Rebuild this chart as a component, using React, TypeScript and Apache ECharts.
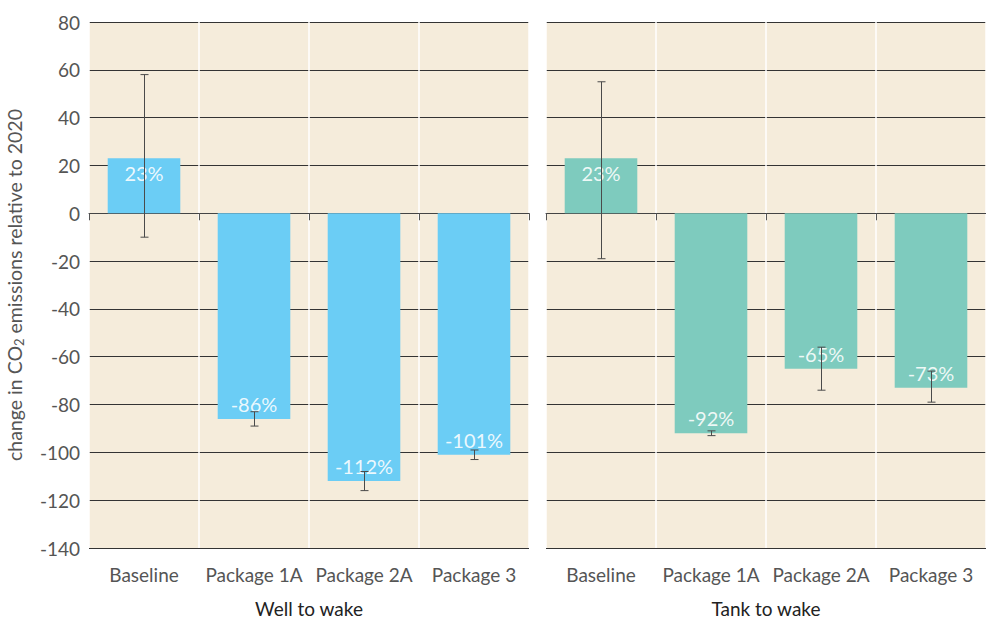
import React, { useEffect, useRef } from "react";
import * as echarts from "echarts";

const categories = ["Baseline", "Package 1A", "Package 2A", "Package 3"];
const yTicks = { min: -140, max: 80, interval: 20 };

// Well to wake
const wellValues = [23, -86, -112, -101];
const wellLow = [-10, -89, -116, -103];
const wellHigh = [58, -83, -108, -99];

// Tank to wake
const tankValues = [23, -92, -65, -73];
const tankLow = [-19, -93, -74, -79];
const tankHigh = [55, -91, -56, -66];

const panelTitles = ["Well to wake", "Tank to wake"];

const FONT = "Lato, 'Open Sans', sans-serif";
const BG = "#f5ecdb";
const COLOR_WELL = "#6bcdf5";
const COLOR_TANK = "#7ecbbe";

function barData(values: number[]) {
  return values.map((v) => ({
    value: v,
    label: { position: v >= 0 ? "insideTop" : "insideBottom" },
  }));
}

function errData(low: number[], high: number[]) {
  return categories.map((_, i) => [i, low[i], high[i]]);
}

function renderError(params: any, api: any) {
  const i = api.value(0);
  const lo = api.coord([i, api.value(1)]);
  const hi = api.coord([i, api.value(2)]);
  const x = Math.round(lo[0]) + 0.5;
  const cap = 4;
  const style = { stroke: "#4a4a4a", lineWidth: 1 };
  return {
    type: "group",
    children: [
      { type: "line", shape: { x1: x, y1: lo[1], x2: x, y2: hi[1] }, style },
      { type: "line", shape: { x1: x - cap, y1: lo[1], x2: x + cap, y2: lo[1] }, style },
      { type: "line", shape: { x1: x - cap, y1: hi[1], x2: x + cap, y2: hi[1] }, style },
    ],
  };
}

function xAxis(gridIndex: number) {
  return {
    type: "category",
    gridIndex,
    data: categories,
    name: panelTitles[gridIndex],
    nameLocation: "middle",
    nameGap: 51,
    nameTextStyle: { fontFamily: FONT, fontSize: 19, lineHeight: 19, color: "#222" },
    axisLine: { show: true, lineStyle: { color: "#444", width: 1 } },
    axisTick: { show: true, interval: 0, length: 7, lineStyle: { color: "#555" } },
    axisLabel: { interval: 0, fontFamily: FONT, fontSize: 19, color: "#555", margin: 17 },
    splitLine: { show: true, interval: 0, lineStyle: { color: "#ffffff", width: 1.5 } },
  };
}

function yAxis(gridIndex: number) {
  const base: any = {
    type: "value",
    gridIndex,
    min: yTicks.min,
    max: yTicks.max,
    interval: yTicks.interval,
    axisLine: { show: false },
    axisTick: { show: false },
    splitLine: { show: true, lineStyle: { color: "#333", width: 1 } },
    axisLabel: {
      show: gridIndex === 0,
      fontFamily: FONT,
      fontSize: 19,
      color: "#555",
      margin: 9,
    },
  };
  if (gridIndex === 0) {
    base.name = "change in CO{sub|2} emissions relative to 2020";
    base.nameLocation = "middle";
    base.nameGap = 64;
    base.nameTextStyle = {
      fontFamily: FONT,
      fontSize: 19.5,
      color: "#555",
      rich: {
        sub: {
          fontFamily: FONT,
          fontSize: 13,
          color: "#555",
          verticalAlign: "bottom",
          padding: [8, 0, 0, 0],
        },
      },
    };
  }
  return base;
}

const barLabel = {
  show: true,
  distance: 5,
  formatter: (p: any) => `${p.value}%`,
  fontFamily: FONT,
  fontSize: 20,
  color: "rgba(255,255,255,0.88)",
};

export default function App() {
  const ref = useRef<HTMLDivElement>(null);

  useEffect(() => {
    if (!ref.current) return;
    const chart = echarts.init(ref.current, undefined, { renderer: "svg" });
    chart.setOption({
      animation: false,
      backgroundColor: "#ffffff",
      grid: [
        {
          left: 89, right: 457, top: 22, bottom: 71,
          outerBoundsMode: "none", containLabel: false,
          show: true, backgroundColor: BG, borderWidth: 0,
        },
        {
          left: 546, right: 0, top: 22, bottom: 71,
          outerBoundsMode: "none", containLabel: false,
          show: true, backgroundColor: BG, borderWidth: 0,
        },
      ],
      xAxis: [xAxis(0), xAxis(1)],
      yAxis: [yAxis(0), yAxis(1)],
      series: [
        {
          type: "bar",
          xAxisIndex: 0,
          yAxisIndex: 0,
          data: barData(wellValues),
          barWidth: "66%",
          itemStyle: { color: COLOR_WELL },
          label: barLabel,
          z: 2,
        },
        {
          type: "bar",
          xAxisIndex: 1,
          yAxisIndex: 1,
          data: barData(tankValues),
          barWidth: "66%",
          itemStyle: { color: COLOR_TANK },
          label: barLabel,
          z: 2,
        },
        {
          type: "custom",
          xAxisIndex: 0,
          yAxisIndex: 0,
          data: errData(wellLow, wellHigh),
          renderItem: renderError,
          z: 5,
        },
        {
          type: "custom",
          xAxisIndex: 1,
          yAxisIndex: 1,
          data: errData(tankLow, tankHigh),
          renderItem: renderError,
          z: 5,
        },
      ],
    });
    return () => chart.dispose();
  }, []);

  return (
    <div
      ref={ref}
      style={{ position: "fixed", left: 0, top: 0, width: 986, height: 619 }}
    />
  );
}
